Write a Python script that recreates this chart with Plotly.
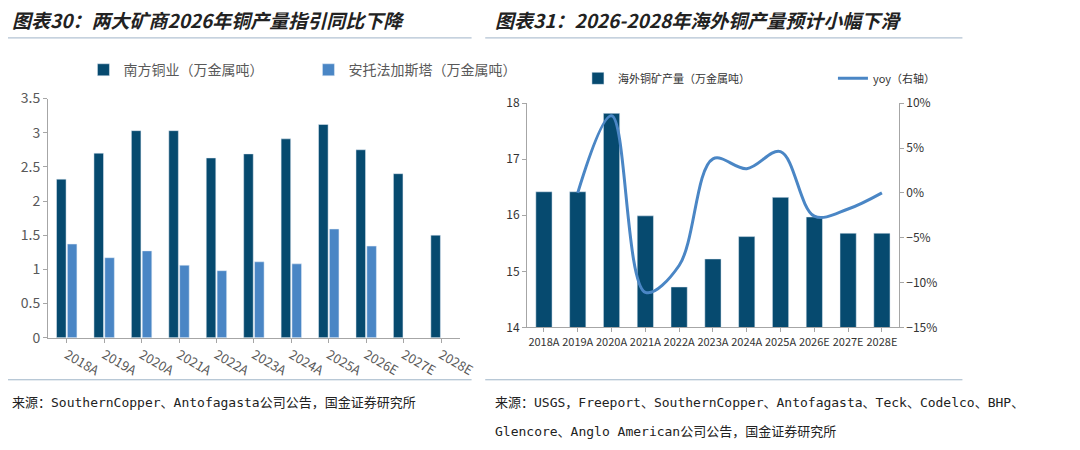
import plotly.graph_objects as go

years = ["2018A", "2019A", "2020A", "2021A", "2022A", "2023A", "2024A", "2025A", "2026E", "2027E", "2028E"]
southern = [2.32, 2.70, 3.03, 3.03, 2.63, 2.69, 2.91, 3.12, 2.75, 2.40, 1.50]
antofagasta = [1.37, 1.17, 1.27, 1.06, 0.98, 1.11, 1.08, 1.59, 1.34, None, None]
overseas = [16.42, 16.42, 17.82, 15.99, 14.72, 15.22, 15.62, 16.32, 15.97, 15.68, 15.68]
yoy = [None, 0.0, 8.6, -11.1, -8.1, 3.8, 2.7, 4.6, -2.6, -1.8, 0.0]

dark = "#064a6f"
light = "#4a86c5"
grey = "#595959"
font = "Noto Sans CJK SC"
src_font = "DejaVu Sans Mono, Noto Sans CJK SC"

fig = go.Figure()
fig.add_trace(go.Bar(x=years, y=southern, name="南方铜业（万金属吨）", marker_color=dark, xaxis="x", yaxis="y", legend="legend"))
fig.add_trace(go.Bar(x=years, y=antofagasta, name="安托法加斯塔（万金属吨）", marker_color=light, xaxis="x", yaxis="y", legend="legend"))
fig.add_trace(go.Bar(x=years, y=overseas, name="海外铜矿产量（万金属吨）", marker_color=dark, width=0.48, xaxis="x2", yaxis="y2", legend="legend2"))
fig.add_trace(go.Scatter(x=years, y=yoy, name="yoy（右轴）", mode="lines", line=dict(color=light, width=3, shape="spline", smoothing=1.0),
                         xaxis="x2", yaxis="y3", legend="legend2"))

axis_common = dict(showline=True, linecolor="#a6a6a6", ticks="outside", ticklen=4, tickcolor="#a6a6a6", showgrid=False, zeroline=False)
fig.update_layout(
    width=1080, height=450, margin=dict(l=0, r=0, t=0, b=0),
    paper_bgcolor="white", plot_bgcolor="white", font=dict(family=font, color=grey),
    barmode="group", bargap=0.42, bargroupgap=0.12,
    xaxis=dict(domain=[0.044, 0.497], anchor="y", **axis_common, tickfont=dict(size=13, color=grey)),
    yaxis=dict(domain=[0.259, 0.815], anchor="x", range=[0, 3.5], dtick=0.5, **axis_common, tickfont=dict(size=14, color=grey)),
    xaxis2=dict(domain=[0.571, 0.98], anchor="y2", **axis_common, tickfont=dict(size=11, color="#333")),
    yaxis2=dict(domain=[0.283, 0.804], anchor="x2", range=[14, 18], dtick=1, **axis_common, tickfont=dict(size=12, color="#333")),
    yaxis3=dict(overlaying="y2", side="right", anchor="x2", range=[-15, 10], dtick=5, ticksuffix="%",
                **axis_common, tickfont=dict(size=12, color="#333")),
    legend=dict(orientation="h", x=0.083, y=0.881, xanchor="left", yanchor="middle", font=dict(size=14, color=grey), entrywidth=180),
    legend2=dict(orientation="h", x=0.627, y=0.862, xanchor="left", yanchor="middle", font=dict(size=11, color="#333"), entrywidth=210),
)

# titles, rules and sources
fig.add_annotation(text="<b><i>图表30：两大矿商2026年铜产量指引同比下降</i></b>", x=0.002, y=1.0, xref="paper", yref="paper",
                   xanchor="left", yanchor="middle", showarrow=False, font=dict(size=19, color="#222"))
fig.add_annotation(text="<b><i>图表31：2026-2028年海外铜产量预计小幅下滑</i></b>", x=0.534, y=1.0, xref="paper", yref="paper",
                   xanchor="left", yanchor="middle", showarrow=False, font=dict(size=19, color="#222"))
fig.add_annotation(text="来源：SouthernCopper、Antofagasta公司公告，国金证券研究所", x=0.002, y=0.107, xref="paper", yref="paper",
                   xanchor="left", yanchor="middle", showarrow=False, font=dict(size=13, color="#222", family=src_font))
fig.add_annotation(text="来源：USGS，Freeport、SouthernCopper、Antofagasta、Teck、Codelco、BHP、", x=0.534, y=0.107, xref="paper", yref="paper",
                   xanchor="left", yanchor="middle", showarrow=False, font=dict(size=13, color="#222", family=src_font))
fig.add_annotation(text="Glencore、Anglo American公司公告，国金证券研究所", x=0.534, y=0.04, xref="paper", yref="paper",
                   xanchor="left", yanchor="middle", showarrow=False, font=dict(size=13, color="#222", family=src_font))
for x0, x1 in [(-0.01, 0.51), (0.525, 1.05)]:
    fig.add_shape(type="line", xref="paper", yref="paper", x0=x0, x1=x1, y0=0.956, y1=0.956, line=dict(color="#9fb4c8", width=1))
    fig.add_shape(type="line", xref="paper", yref="paper", x0=x0, x1=x1, y0=0.161, y1=0.161, line=dict(color="#9fb4c8", width=1))

fig.write_html("out.html")
